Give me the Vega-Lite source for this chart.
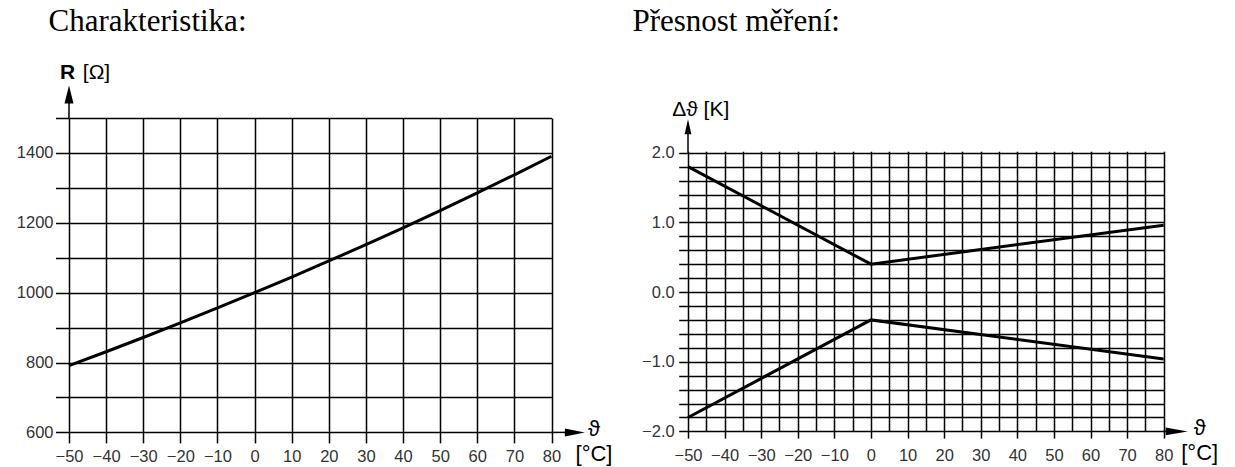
{
  "$schema": "https://vega.github.io/schema/vega-lite/v6.json",
  "background": "white",
  "padding": {"left": 16, "top": 5, "right": 5, "bottom": 3},
  "spacing": 20,
  "datasets": {
    "resistance": [
      {"t": -50, "R": 790.9}, {"t": -40, "R": 830.8}, {"t": -30, "R": 871.7},
      {"t": -20, "R": 913.5}, {"t": -10, "R": 956.2}, {"t": 0, "R": 1000},
      {"t": 10, "R": 1044.8}, {"t": 20, "R": 1090.7}, {"t": 30, "R": 1137.6},
      {"t": 40, "R": 1185.7}, {"t": 50, "R": 1235.0}, {"t": 60, "R": 1285.6},
      {"t": 70, "R": 1337.4}, {"t": 80, "R": 1390.6}
    ],
    "accuracy": [
      {"t": -50, "d": 1.8, "s": "upper"}, {"t": 0, "d": 0.4, "s": "upper"}, {"t": 80, "d": 0.96, "s": "upper"},
      {"t": -50, "d": -1.8, "s": "lower"}, {"t": 0, "d": -0.4, "s": "lower"}, {"t": 80, "d": -0.96, "s": "lower"}
    ]
  },
  "config": {
    "view": {"stroke": null},
    "axis": {
      "labelFont": "Liberation Sans",
      "labelFontSize": 16.5,
      "labelColor": "#333333",
      "labelFlush": false,
      "grid": true,
      "gridColor": "black",
      "gridOpacity": 1,
      "gridWidth": 1.5,
      "tickColor": "black",
      "tickWidth": 1.5,
      "tickCount": 200,
      "labelOverlap": false,
      "domain": false,
      "titleFont": "Liberation Sans, DejaVu Sans",
      "titleFontSize": 21,
      "titleColor": "black",
      "titleFontWeight": "normal"
    }
  },
  "hconcat": [
    {
      "width": 482.5,
      "height": 314.4,
      "title": {"text": "Charakteristika:", "anchor": "start", "frame": "group", "font": "Liberation Serif", "fontSize": 31, "fontWeight": "normal", "color": "black", "dx": -20.5, "offset": 24},
      "layer": [
        {
          "data": {"name": "resistance"},
          "mark": {"type": "line", "color": "black", "strokeWidth": 3},
          "encoding": {
            "x": {
              "field": "t", "type": "quantitative",
              "scale": {"domain": [-50, 80], "nice": false, "zero": false},
              "axis": {
                "values": [-50, -40, -30, -20, -10, 0, 10, 20, 30, 40, 50, 60, 70, 80],
                "format": "d", "tickSize": 10.5, "labelPadding": 6,
                "title": ["ϑ", "[°C]"], "titleFontSize": 22, "titleX": 524.5, "titleY": 3.3,
                "titleAlign": "center", "titleBaseline": "alphabetic", "titleLineHeight": 24.5
              }
            },
            "y": {
              "field": "R", "type": "quantitative",
              "scale": {"domain": [600, 1500], "nice": false, "zero": false},
              "axis": {
                "values": [600, 700, 800, 900, 1000, 1100, 1200, 1300, 1400, 1500],
                "labelExpr": "datum.value % 200 === 0 ? datum.label : ''",
                "format": "d", "tickSize": 13.5, "labelPadding": 2.5,
                "title": "R", "titleFontWeight": "bold", "titleAngle": 0, "titleAlign": "left",
                "titleBaseline": "middle", "titleX": -9.5, "titleY": -45.3
              }
            }
          }
        },
        {
          "data": {"values": [{}]},
          "mark": {"type": "rule", "color": "black", "strokeWidth": 1.5},
          "encoding": {"x": {"datum": -50}, "y": {"datum": 1500}, "y2": {"datum": 1562}}
        },
        {
          "data": {"values": [{}]},
          "mark": {"type": "point", "shape": "M0,-1L0.5,1L-0.5,1Z", "size": 324, "filled": true, "color": "black", "opacity": 1, "strokeWidth": 0},
          "encoding": {"x": {"datum": -50}, "y": {"datum": 1567}}
        },
        {
          "data": {"values": [{}]},
          "mark": {"type": "rule", "color": "black", "strokeWidth": 1.5},
          "encoding": {"x": {"datum": 80}, "x2": {"datum": 85}, "y": {"datum": 600}}
        },
        {
          "data": {"values": [{}]},
          "mark": {"type": "point", "shape": "M1,0L-1,-0.4L-1,0.4Z", "size": 400, "filled": true, "color": "black", "opacity": 1, "strokeWidth": 0},
          "encoding": {"x": {"datum": 86.3}, "y": {"datum": 600}}
        },
        {
          "data": {"values": [{}]},
          "mark": {"type": "text", "text": "[Ω]", "align": "left", "baseline": "middle", "font": "Liberation Sans", "fontSize": 21, "color": "black", "dx": 13.8},
          "encoding": {"x": {"datum": -50}, "y": {"datum": 1629.7}}
        }
      ]
    },
    {
      "width": 475.7,
      "height": 313.4,
      "title": {"text": "Přesnost měření:", "anchor": "start", "frame": "group", "font": "Liberation Serif", "fontSize": 31, "fontWeight": "normal", "color": "black", "dx": -55.6, "offset": 61},
      "layer": [
        {
          "data": {"name": "accuracy"},
          "mark": {"type": "line", "color": "black", "strokeWidth": 3},
          "encoding": {
            "detail": {"field": "s", "type": "nominal"},
            "x": {
              "field": "t", "type": "quantitative",
              "scale": {"domain": [-50, 80], "nice": false, "zero": false},
              "axis": {
                "values": [-50, -45, -40, -35, -30, -25, -20, -15, -10, -5, 0, 5, 10, 15, 20, 25, 30, 35, 40, 45, 50, 55, 60, 65, 70, 75, 80],
                "labelExpr": "datum.value % 10 === 0 ? datum.label : ''",
                "format": "d", "tickSize": 6.7, "labelPadding": 9.5,
                "tickOpacity": {"condition": {"test": "datum.value % 10 !== 0", "value": 0}, "value": 1},
                "title": ["ϑ", "[°C]"], "titleFontSize": 22, "titleX": 511.2, "titleY": 3.3,
                "titleAlign": "center", "titleBaseline": "alphabetic", "titleLineHeight": 24.5
              }
            },
            "y": {
              "field": "d", "type": "quantitative",
              "scale": {"domain": [-2, 2.498], "nice": false, "zero": false},
              "axis": {
                "values": [-2, -1.8, -1.6, -1.4, -1.2, -1, -0.8, -0.6, -0.4, -0.2, 0, 0.2, 0.4, 0.6, 0.8, 1, 1.2, 1.4, 1.6, 1.8, 2],
                "labelExpr": "abs(datum.value - round(datum.value)) < 0.001 ? format(datum.value, '.1f') : ''",
                "tickSize": 9.3, "labelPadding": 4.5, "zindex": 1,
                "title": "Δϑ [K]", "titleAngle": 0, "titleAlign": "left",
                "titleBaseline": "middle", "titleX": -16.3, "titleY": -8.3
              }
            }
          }
        },
        {
          "data": {"values": [{}]},
          "mark": {"type": "rect", "color": "white", "opacity": 1},
          "encoding": {"x": {"datum": -51}, "x2": {"datum": 82}, "y": {"datum": 2.012}, "y2": {"datum": 2.6}}
        },
        {
          "data": {"values": [{}]},
          "mark": {"type": "rule", "color": "black", "strokeWidth": 1.5},
          "encoding": {"x": {"datum": -50}, "y": {"datum": 2}, "y2": {"datum": 2.3}}
        },
        {
          "data": {"values": [{}]},
          "mark": {"type": "point", "shape": "M0,-1L0.45,1L-0.45,1Z", "size": 225, "filled": true, "color": "black", "opacity": 1, "strokeWidth": 0},
          "encoding": {"x": {"datum": -50}, "y": {"datum": 2.374}}
        },
        {
          "data": {"values": [{}]},
          "mark": {"type": "rule", "color": "black", "strokeWidth": 1.5},
          "encoding": {"x": {"datum": 80}, "x2": {"datum": 82}, "y": {"datum": -2}}
        },
        {
          "data": {"values": [{}]},
          "mark": {"type": "point", "shape": "M1,0L-1,-0.35L-1,0.35Z", "size": 484, "filled": true, "color": "black", "opacity": 1, "strokeWidth": 0},
          "encoding": {"x": {"datum": 83.55}, "y": {"datum": -2}}
        }
      ]
    }
  ]
}
